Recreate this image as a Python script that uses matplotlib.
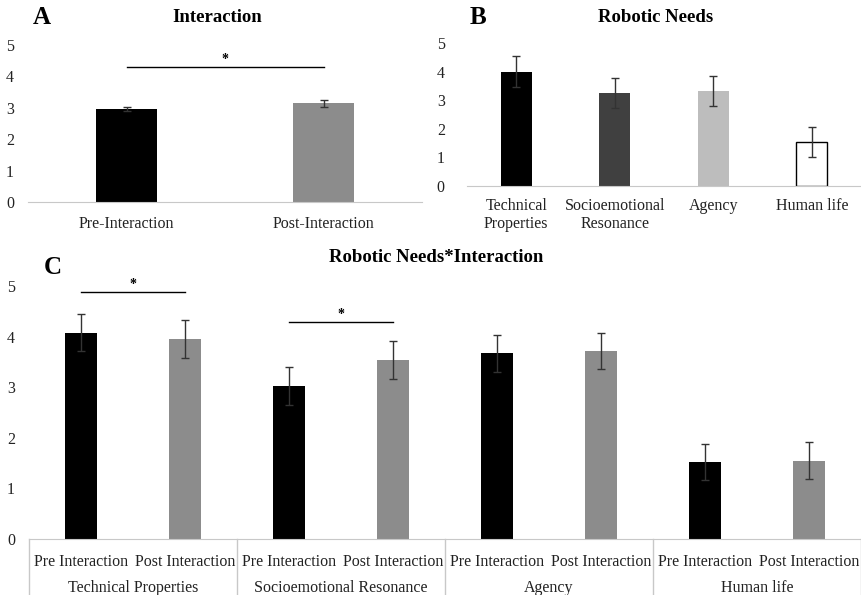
import matplotlib
matplotlib.use("Agg")
import matplotlib.pyplot as plt
import matplotlib.transforms as mtransforms
import numpy as np

plt.rcParams['font.family'] = ['Liberation Serif', 'DejaVu Serif']

# Datos panel A
a_cats = ["Pre-Interaction", "Post-Interaction"]
a_vals = [2.97, 3.14]
a_err = [0.07, 0.11]
a_cols = ["#000000", "#8c8c8c"]

# Datos panel B
b_cats = ["Technical\nProperties", "Socioemotional\nResonance", "Agency", "Human life"]
b_vals = [4.0, 3.26, 3.31, 1.55]
b_err = [0.53, 0.52, 0.53, 0.52]
b_cols = ["#000000", "#404040", "#bdbdbd", "#ffffff"]

# Datos panel C
c_groups = ["Technical Properties", "Socioemotional Resonance", "Agency", "Human life"]
c_sub = ["Pre Interaction", "Post Interaction"]
c_pre = [4.08, 3.02, 3.67, 1.52]
c_post = [3.95, 3.54, 3.72, 1.55]
c_pre_err = [0.36, 0.37, 0.36, 0.36]
c_post_err = [0.38, 0.37, 0.36, 0.37]

W, H = 861, 595
fig = plt.figure(figsize=(W / 100, H / 100), dpi=100)
FS = 11.5  # tamaño de etiquetas


def caja(x0, x1, ytop, ybot):
    return [x0 / W, (H - ybot) / H, (x1 - x0) / W, (ybot - ytop) / H]


def estilo(ax, pad):
    for s in ["top", "right", "left"]:
        ax.spines[s].set_visible(False)
    ax.spines["bottom"].set_color("#c8c8c8")
    ax.set_ylim(0, 5)
    ax.set_yticks(range(6))
    ax.tick_params(axis="both", length=0, labelsize=FS, colors="#222222")
    ax.tick_params(axis="y", pad=pad)


ek = dict(ecolor="#333333", elinewidth=1, capsize=3, capthick=1)

# Panel A
axA = fig.add_axes(caja(28, 422, 45, 202))
xa = np.arange(len(a_cats))
axA.bar(xa, a_vals, width=0.31, color=a_cols, yerr=a_err, error_kw=ek)
axA.set_xlim(-0.5, 1.5)
axA.set_xticks(xa)
axA.set_xticklabels(a_cats)
estilo(axA, 10)
axA.tick_params(axis="x", pad=10)
axA.plot([0, 1], [4.3, 4.3], color="black", lw=1)
axA.text(0.5, 4.33, "*", ha="center", va="bottom", fontsize=10, fontweight="bold")

# Panel B
axB = fig.add_axes(caja(467, 861, 43, 186))
xb = np.arange(len(b_cats))
axB.bar(xb, b_vals, width=0.31, color=b_cols, edgecolor=["none", "none", "none", "#000000"],
        linewidth=1, yerr=b_err, error_kw=ek)
axB.set_xlim(-0.5, 3.5)
axB.set_xticks(xb)
axB.set_xticklabels(b_cats, linespacing=1.1)
estilo(axB, 16)
axB.tick_params(axis="x", pad=9)

# Panel C
axC = fig.add_axes(caja(29, 861, 286, 539))
vals = []
errs = []
cols = []
for p, q, ep, eq in zip(c_pre, c_post, c_pre_err, c_post_err):
    vals += [p, q]
    errs += [ep, eq]
    cols += ["#000000", "#8c8c8c"]
xc = np.arange(len(vals))
axC.bar(xc, vals, width=0.31, color=cols, yerr=errs, error_kw=ek)
axC.set_xlim(-0.5, len(vals) - 0.5)
axC.set_xticks(xc)
axC.set_xticklabels(c_sub * len(c_groups))
estilo(axC, 10)
axC.tick_params(axis="x", pad=11)

tr = mtransforms.blended_transform_factory(axC.transData, axC.transAxes)
for k in range(len(c_groups) + 1):
    axC.plot([k * 2 - 0.5] * 2, [0, -0.23], color="#c8c8c8", lw=1, transform=tr, clip_on=False)
for k, g in enumerate(c_groups):
    axC.text(k * 2 + 0.5, -0.195, g, ha="center", va="center", fontsize=FS,
             color="#222222", transform=tr)

axC.plot([0, 1], [4.88, 4.88], color="black", lw=1, clip_on=False)
axC.text(0.5, 4.9, "*", ha="center", va="bottom", fontsize=10, fontweight="bold")
axC.plot([2, 3], [4.28, 4.28], color="black", lw=1, clip_on=False)
axC.text(2.5, 4.3, "*", ha="center", va="bottom", fontsize=10, fontweight="bold")

# Títulos y letras
TS = 13.5
fig.text(217 / W, 1 - 18 / H, "Interaction", ha="center", va="center", fontweight="bold", fontsize=TS)
fig.text(656 / W, 1 - 18 / H, "Robotic Needs", ha="center", va="center", fontweight="bold", fontsize=TS)
fig.text(436 / W, 1 - 258 / H, "Robotic Needs*Interaction", ha="center", va="center",
         fontweight="bold", fontsize=TS)
fig.text(42 / W, 1 - 18 / H, "A", ha="center", va="center", fontweight="bold", fontsize=18)
fig.text(478 / W, 1 - 18 / H, "B", ha="center", va="center", fontweight="bold", fontsize=18)
fig.text(53 / W, 1 - 268 / H, "C", ha="center", va="center", fontweight="bold", fontsize=18)

fig.savefig("out.png", dpi=100)
